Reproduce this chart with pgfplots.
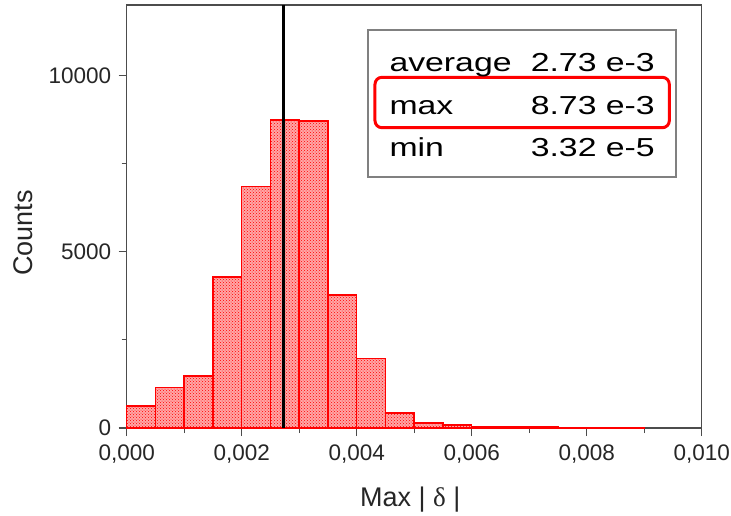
\documentclass[border=0pt]{standalone}
\usepackage{pgfplots}
\pgfplotsset{compat=1.18}
\usepackage{pgfplotstable}
\usepackage{graphicx}
\usepackage{fontspec}
\setmainfont{Liberation Sans}
\newfontfamily\serif{Liberation Serif}
\usetikzlibrary{patterns}

\pgfplotstableread{
x y
0.0000 630
0.0005 1150
0.0010 1470
0.0015 4290
0.0020 6850
0.0025 8740
0.0030 8710
0.0035 3770
0.0040 1970
0.0045 425
0.0050 140
0.0055 85
0.0060 45
0.0065 35
0.0070 30
0.0075 15
0.0080 8
0.0085 4
0.0090 4
}\hist

\newcommand{\tickf}{\fontsize{22.5}{25}\selectfont}
\newcommand{\labf}{\fontsize{27}{30}\selectfont}
\begin{document}
\begin{tikzpicture}
\begin{axis}[
  width=575pt, height=423pt, scale only axis,
  xmin=0, xmax=0.01, ymin=0, ymax=12000,
  axis line style={draw=black!70, line width=1.2pt},
  tick style={black!70, line width=1.2pt},
  major tick length=8pt, minor tick length=5pt,
  tick align=outside, xtick pos=bottom, ytick pos=left,
  xtick={0,0.002,0.004,0.006,0.008,0.01},
  xticklabels={{0,000},{0,002},{0,004},{0,006},{0,008},{0,010}},
  ytick={0,5000,10000}, yticklabels={0,5000,10000},
  minor x tick num=1, minor y tick num=1,
  scaled x ticks=false, scaled y ticks=false,
  /pgf/number format/assume math mode=true,
  xticklabel style={font=\tickf, text=black!85, inner sep=0pt, yshift=-9pt},
  yticklabel style={font=\tickf, text=black!85, inner sep=0pt, xshift=-7.3pt},
  xlabel={Max | {\serif δ} |}, ylabel={Counts},
  xlabel style={font=\labf, text=black!85, at={(rel axis cs:0.493,-0.186)}, anchor=base},
  ylabel style={font=\labf, text=black!85, at={(rel axis cs:-0.163,0.461)}, anchor=base},
  clip=false,
]
\addplot[ybar interval, draw=red, line width=1.5pt, fill=red!35,
  postaction={pattern=crosshatch dots, pattern color=red}] table {\hist};
\addplot[black, line width=3pt] coordinates {(0.00273,0) (0.00273,12000)};

\draw[black!50, line width=1.2pt] (rel axis cs:0.4197,0.5934) rectangle (rel axis cs:0.9553,0.9409);
\draw[red, line width=3pt, rounded corners=7pt] (rel axis cs:0.4318,0.7099) rectangle (rel axis cs:0.9437,0.8291);
\tikzset{boxtxt/.style={inner sep=0pt, font=\fontsize{26}{28}\selectfont}}
\node[boxtxt, anchor=base west] at (rel axis cs:0.4567,0.8423) {\scalebox{1.3}[1]{average}};
\node[boxtxt, anchor=base east] at (rel axis cs:0.9188,0.8423) {\scalebox{1.3}[1]{2.73 e-3}};
\node[boxtxt, anchor=base west] at (rel axis cs:0.4567,0.7400) {\scalebox{1.3}[1]{max}};
\node[boxtxt, anchor=base east] at (rel axis cs:0.9188,0.7400) {\scalebox{1.3}[1]{8.73 e-3}};
\node[boxtxt, anchor=base west] at (rel axis cs:0.4567,0.6414) {\scalebox{1.3}[1]{min}};
\node[boxtxt, anchor=base east] at (rel axis cs:0.9188,0.6414) {\scalebox{1.3}[1]{3.32 e-5}};

\coordinate (sw) at (rel axis cs:0,0);
\coordinate (ne) at (rel axis cs:1,1);
\end{axis}
\pgfresetboundingbox
\path[use as bounding box] ([shift={(-126.7pt,-87pt)}]sw) rectangle ([shift={(29.3pt,5pt)}]ne);
\end{tikzpicture}
\end{document}
